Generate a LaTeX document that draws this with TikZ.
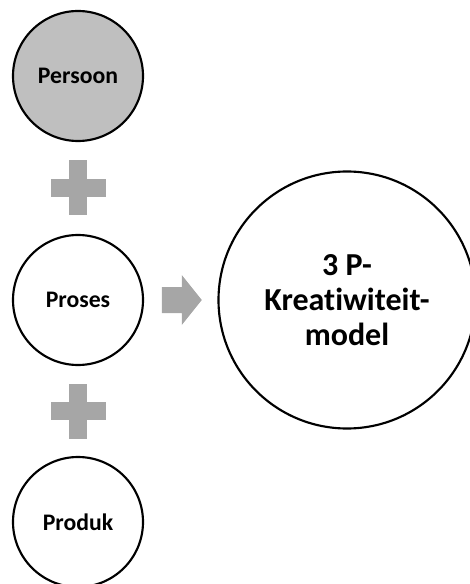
\documentclass[tikz,border=0pt]{standalone}
\usepackage{fontspec}
\setmainfont{Carlito}[Ligatures=NoCommon]
\usetikzlibrary{calc}
\definecolor{persoongray}{RGB}{191,191,191}
\definecolor{signgray}{RGB}{166,166,166}

\begin{document}
\begin{tikzpicture}[x=0.75pt, y=-0.75pt,
      every node/.append style={inner sep=0pt},
      small font/.style={font=\fontsize{17.8}{21}\selectfont\bfseries},
      big font/.style={font=\fontsize{24}{26.25}\selectfont\bfseries}]
    \tikzstyle{pcircle} = [circle,draw=black,line width=1.6pt,minimum size=97.5pt,small font]
    \tikzstyle{sign} = [fill=signgray,draw=none]
    \clip (0,0) rectangle (470,584);
    \node (persoon) [pcircle,fill=persoongray] at (78,76) {Persoon};
    \node (proses) [pcircle] at (78,300) {Proses};
    \node (produk) [pcircle] at (78,522) {Produk};
    \node (model) [pcircle,minimum size=192.75pt,align=center,big font] at (347,300)
      {3 P-\\Kreatiwiteit-\\model};
    % plus signs between the circles
    \coordinate (plusA) at ($(persoon.south)!0.5!(proses.north)$);
    \coordinate (plusB) at ($(proses.south)!0.5!(produk.north)$);
    \foreach \c in {plusA,plusB} {
      \fill[sign] ([shift={(-9,-27.5)}]\c) rectangle ([shift={(9,27.5)}]\c);
      \fill[sign] ([shift={(-27.5,-9)}]\c) rectangle ([shift={(27.5,9)}]\c);
    }
    % block arrow to the model
    \coordinate (arrowmid) at ($(proses.east)!0.5!(model.west)$);
    \fill[sign,shift={(arrowmid)}] (-19,-13) -- (1,-13) -- (1,-25) -- (21,0)
      -- (1,25) -- (1,13) -- (-19,13) -- cycle;
\end{tikzpicture}
\end{document}
